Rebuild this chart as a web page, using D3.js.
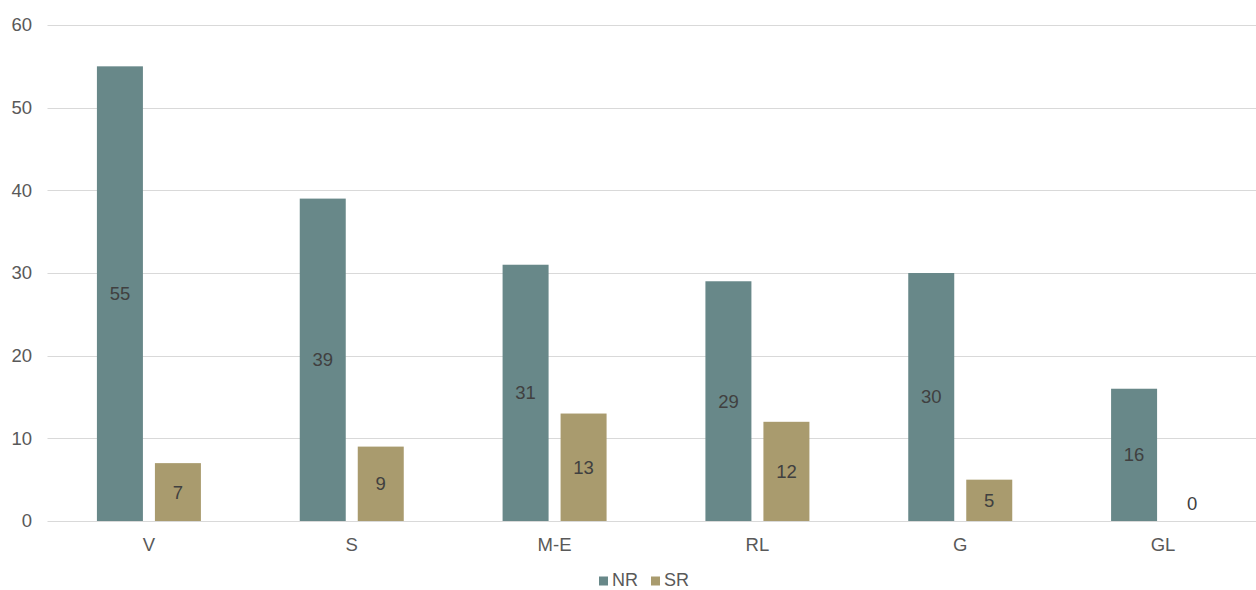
<!DOCTYPE html>
<html><head><meta charset="utf-8">
<script src="https://cdn.jsdelivr.net/npm/d3@7"></script>
<style>html,body{margin:0;padding:0;background:#fff;}svg{display:block;}</style>
</head><body>
<svg id="chart" width="1256" height="590"></svg>
<script>
const categories = ["V", "S", "M-E", "RL", "G", "GL"];
const seriesNames = ["NR", "SR"];
const nrValues = [55, 39, 31, 29, 30, 16];
const srValues = [7, 9, 13, 12, 5, 0];
const yTicks = [0, 10, 20, 30, 40, 50, 60];
const colors = ["#688889", "#A99B6E"];

const svg = d3.select("#chart");
const font = "'Liberation Sans', Arial, sans-serif";
const plotLeft = 47.5, plotRight = 1264.5, plotTop = 25, plotBottom = 521;

const x = d3.scaleBand().domain(categories).range([plotLeft, plotRight]).paddingInner(0).paddingOuter(0);
const y = d3.scaleLinear().domain([0, 60]).range([plotBottom, plotTop]);
const x1 = d3.scaleBand().domain(seriesNames).range([0, x.bandwidth()]).paddingInner(0.207).paddingOuter(0.852);

// gridlines
svg.append("g").selectAll("line").data(yTicks).join("line")
  .attr("x1", plotLeft).attr("x2", 1256)
  .attr("y1", d => Math.round(y(d)) + 0.5).attr("y2", d => Math.round(y(d)) + 0.5)
  .attr("stroke", "#D9D9D9").attr("stroke-width", 1);

// y tick labels
svg.append("g").selectAll("text").data(yTicks).join("text")
  .attr("x", 32).attr("y", d => y(d)).attr("dy", "0.35em")
  .attr("text-anchor", "end").attr("font-family", font).attr("font-size", 18.5)
  .attr("fill", "#595959").text(d => d);

const rows = categories.map((c, i) => ({cat: c, vals: [nrValues[i], srValues[i]]}));

const groups = svg.append("g").selectAll("g").data(rows).join("g")
  .attr("transform", d => `translate(${x(d.cat)},0)`);

groups.selectAll("rect").data(d => d.vals.map((v, j) => ({s: seriesNames[j], v, j}))).join("rect")
  .attr("x", d => x1(d.s)).attr("width", x1.bandwidth())
  .attr("y", d => y(d.v)).attr("height", d => y(0) - y(d.v))
  .attr("fill", d => colors[d.j]);

groups.selectAll("text").data(d => d.vals.map((v, j) => ({s: seriesNames[j], v, j}))).join("text")
  .attr("x", d => x1(d.s) + x1.bandwidth() / 2)
  .attr("y", d => d.v === 0 ? y(0) - 17 : (y(d.v) + y(0)) / 2)
  .attr("dy", "0.35em").attr("text-anchor", "middle")
  .attr("font-family", font).attr("font-size", 18.5).attr("fill", "#404040")
  .text(d => d.v);

// x category labels
svg.append("g").selectAll("text").data(categories).join("text")
  .attr("x", d => x(d) + x.bandwidth() / 2).attr("y", 545).attr("dy", "0.35em")
  .attr("text-anchor", "middle").attr("font-family", font).attr("font-size", 18.5)
  .attr("fill", "#595959").text(d => d);

// legend
const legend = svg.append("g");
const legendItems = [{name: "NR", x: 599}, {name: "SR", x: 651}];
legendItems.forEach((it, i) => {
  legend.append("rect").attr("x", it.x).attr("y", 576.5).attr("width", 9).attr("height", 9).attr("fill", colors[i]);
  legend.append("text").attr("x", it.x + 13).attr("y", 579.5).attr("dy", "0.35em")
    .attr("font-family", font).attr("font-size", 18).attr("fill", "#595959").text(it.name);
});
</script>
</body></html>
